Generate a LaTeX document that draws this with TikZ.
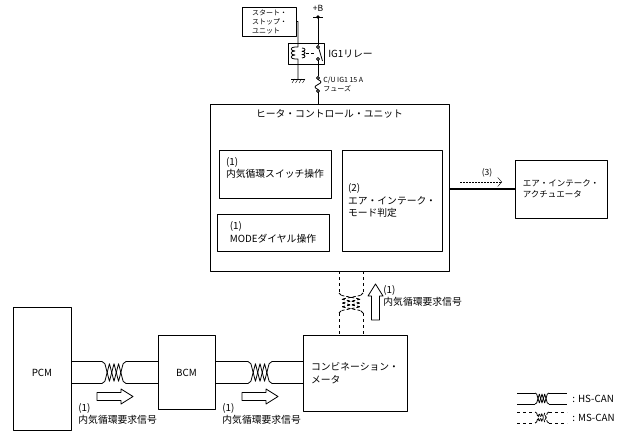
\documentclass[tikz,border=0pt]{standalone}
\usepackage{fontspec}
\setmainfont{Noto Sans CJK JP}
\usetikzlibrary{calc,positioning,arrows.meta}

\begin{document}
\begin{tikzpicture}
	[x=1pt,y=-1pt,thick,line join=round,
	every node/.style={inner sep=1pt,font=\fontsize{9.8}{12.5}\selectfont},
	unit/.style={draw,rectangle,align=left},
	small/.style={font=\fontsize{7}{9}\selectfont},
	sig/.style={align=left,anchor=north west},
	hstwist/.pic={
		\coordinate (-a1) at (0,-1); \coordinate (-a2) at (0,1);
		\coordinate (-b1) at (1,-1); \coordinate (-b2) at (1,1);
		\draw (0,-1) -- (0.12,-0.8) (0,1) -- (0.12,0.8)
		(1,-1) -- (0.88,-0.8) (1,1) -- (0.88,0.8);
		\draw (0.12,-0.8) -- (0.31,0.8) -- (0.5,-0.8) -- (0.69,0.8) -- (0.88,-0.8);
		\draw (0.12,0.8) -- (0.31,-0.8) -- (0.5,0.8) -- (0.69,-0.8) -- (0.88,0.8);},
	hollow/.pic={
		\draw[fill=white] (0,-4) -- (24,-4) -- (24,-7.5) -- (36,0)
		-- (24,7.5) -- (24,4) -- (0,4) -- cycle;}]
	\useasboundingbox (0,0) rectangle (634,438);
	% supply and relay
	\node[unit,small,minimum width=54pt,minimum height=29pt] (ssu) at (269.5,21.5) {スタート・\\ストップ・\\ユニット};
	\node[font=\fontsize{8.5}{10}\selectfont] (pb) at (318,8) {+B};
	\coordinate (bat) at (318,17);
	\fill (bat) circle (1.8);
	\draw ([xshift=-5pt]bat) -- ([xshift=5pt]bat);
	\node[unit,minimum width=36pt,minimum height=21pt] (rly) at (306.5,53.5) {};
	\node[right=2pt of rly] (rlytxt) {IG1リレー};
	\coordinate (coilt) at (298,47);
	\coordinate (coilb) at (298,59);
	\coordinate (gnd) at (298,79);
	\coordinate (cta) at (318,47);
	\coordinate (ctb) at (318,59);
	\coordinate (fsa) at (318,78);
	\coordinate (fsb) at (318,91);
	\draw (ssu.east) -| (coilt) -- ++(-3,0)
		.. controls +(-5,0) and +(-5,0) .. ++(0,4)
		.. controls +(-5,0) and +(-5,0) .. ++(0,4)
		.. controls +(-5,0) and +(-5,0) .. ++(0,4) -- (coilb) -- (gnd);
	\draw (302,48) .. controls +(4,0) and +(4,0) .. ++(0,3.3)
		.. controls +(4,0) and +(4,0) .. ++(0,3.3)
		.. controls +(4,0) and +(4,0) .. ++(0,3.3);
	\draw[thin,densely dashed] (306,53) -- (315,53);
	\draw ([xshift=-7pt]gnd) -- ([xshift=7pt]gnd);
	\foreach \x in {292,295.5,299,302.5}
		\draw[thin] (\x+2.5,79) -- (\x,83);
	\draw (bat) -- ([yshift=1.5pt]cta);
	\draw (cta) circle (1.5) (ctb) circle (1.5);
	\draw (cta) ++(0.8,1.3) -- (322.5,61);
	\draw ([yshift=-1.5pt]ctb) -- ([yshift=1.5pt]fsa);
	\draw (fsa) circle (1.5) (fsb) circle (1.5);
	\draw ([yshift=-1.5pt]fsa) .. controls +(4,2) and +(4,-2) .. (318,84.5)
		.. controls +(-4,2) and +(-4,-2) .. ([yshift=1.5pt]fsb);
	\node[small,align=left,anchor=west] (fstxt) at (322,84.5) {C/U IG1 15 A\\フューズ};
	% heater control unit
	\node[unit,minimum width=239pt,minimum height=167pt] (hcu) at (329.5,187.5) {};
	\draw ([yshift=-1.5pt]fsb) -- (fsb |- hcu.north);
	\node[below=5pt of hcu.north] (hcutxt) {ヒータ・コントロール・ユニット};
	\node[unit,minimum width=112pt,minimum height=48pt] (sw) at (275,174) {};
	\node[sig] (swtxt) at ([shift={(6,6)}]sw.north west) {(1)\\内気循環スイッチ操作};
	\node[unit,minimum width=112pt,minimum height=37pt] (mode) at (273,232.5) {(1)\\MODEダイヤル操作};
	\node[unit,minimum width=100pt,minimum height=101pt] (judge) at (392,200.5) {(2)\\エア・インテーク・\\モード判定};
	\node[unit,minimum width=92pt,minimum height=58pt,font=\fontsize{8.5}{11.5}\selectfont] (act) at (561,189) {エア・インテーク・\\アクチュエータ};
	\draw[line width=2.4pt] (hcu.east |- act.west) -- (act.west);
	\coordinate (s3a) at (460,182);
	\coordinate (s3b) at (502,182);
	\draw[thin,dash pattern=on 2pt off 1pt,-{Straight Barb[length=4pt,width=9pt]}] (s3a) -- (s3b);
	\node[font=\fontsize{8.5}{10}\selectfont] (s3txt) at (487,173) {(3)};
	% CAN side
	\node[unit,minimum width=57pt,minimum height=74pt] (bcm) at (186.5,372.5) {BCM};
	\node[unit,minimum width=58pt,minimum height=123pt] (pcm) at (42,368.5) {};
	\node (pcmtxt) at (pcm |- bcm) {PCM};
	\node[unit,minimum width=104pt,minimum height=76pt] (meter) at (355,373) {コンビネーション・\\メータ};
	\pic[xscale=24,yscale=11] (tw1) at (102,372.5) {hstwist};
	\draw (pcm.east |- tw1-a1) -- (tw1-a1) (tw1-b1) -- (bcm.west |- tw1-b1);
	\draw (pcm.east |- tw1-a2) -- (tw1-a2) (tw1-b2) -- (bcm.west |- tw1-b2);
	\pic[xscale=24,yscale=11] (tw2) at (248,372.5) {hstwist};
	\draw (bcm.east |- tw2-a1) -- (tw2-a1) (tw2-b1) -- (meter.west |- tw2-b1);
	\draw (bcm.east |- tw2-a2) -- (tw2-a2) (tw2-b2) -- (meter.west |- tw2-b2);
	\pic[densely dashed,rotate=-90,xscale=20,yscale=12] (tw3) at (351,293) {hstwist};
	\draw[dashed] (tw3-a1 |- hcu.south) -- (tw3-a1) (tw3-b1) -- (tw3-b1 |- meter.north);
	\draw[dashed] (tw3-a2 |- hcu.south) -- (tw3-a2) (tw3-b2) -- (tw3-b2 |- meter.north);
	\pic (arr1) at (97,396.5) {hollow};
	\pic (arr2) at (242,396.5) {hollow};
	\pic[rotate=90] (arr3) at (375.5,320) {hollow};
	\node[sig] (sig1) at (77,402) {(1)\\内気循環要求信号};
	\node[sig] (sig2) at (221,402) {(1)\\内気循環要求信号};
	\node[sig] (sig3) at (382,284) {(1)\\内気循環要求信号};
	% legend
	\coordinate (hsl) at (517,398.5);
	\coordinate (hsr) at (567,398.5);
	\pic[xscale=14,yscale=5.5] (lg1) at (535,398.5) {hstwist};
	\draw (hsl |- lg1-a1) -- (lg1-a1) (lg1-b1) -- (hsr |- lg1-b1);
	\draw (hsl |- lg1-a2) -- (lg1-a2) (lg1-b2) -- (hsr |- lg1-b2);
	\node[right=4pt of hsr] (hstxt) {: HS-CAN};
	\coordinate (msl) at (517,417.5);
	\coordinate (msr) at (567,417.5);
	\pic[densely dashed,xscale=14,yscale=5.5] (lg2) at (535,417.5) {hstwist};
	\draw[dashed] (msl |- lg2-a1) -- (lg2-a1) (lg2-b1) -- (msr |- lg2-b1);
	\draw[dashed] (msl |- lg2-a2) -- (lg2-a2) (lg2-b2) -- (msr |- lg2-b2);
	\node[right=4pt of msr] (mstxt) {: MS-CAN};
\end{tikzpicture}
\end{document}
